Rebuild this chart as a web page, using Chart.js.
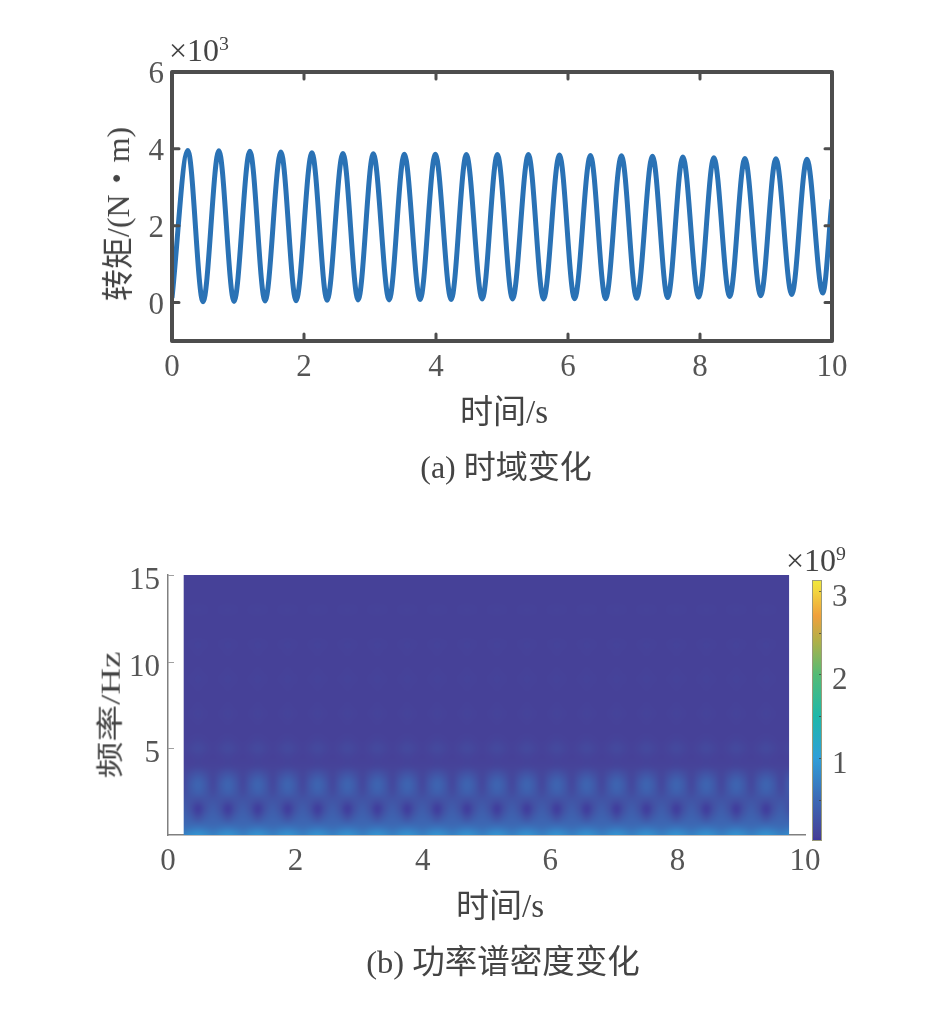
<!DOCTYPE html>
<html>
<head>
<meta charset="utf-8">
<script src="https://cdn.jsdelivr.net/npm/chart.js@4"></script>
<style>
  html, body { margin: 0; padding: 0; background: #fff; }
  body { position: relative; width: 945px; height: 1009px; overflow: hidden; font-family: 'Liberation Serif', 'Noto Sans CJK SC', serif; color: #444; }
  canvas { position: absolute; left: 0; }
  .t { position: absolute; white-space: nowrap; transform: translate(-50%, -50%); line-height: 1; }
  .rot { transform: translate(-50%, -50%) rotate(-90deg); }
  sup { font-size: 62%; line-height: 0; vertical-align: 0.55em; }
</style>
</head>
<body>
<canvas id="torqueChart" width="945" height="500" style="top:0"></canvas>
<canvas id="heatChart" width="945" height="509" style="top:500px"></canvas>
<canvas id="barChart" width="945" height="509" style="top:500px"></canvas>

<div class="t" style="left:199px;top:50px;font-size:32px">×10<sup>3</sup></div>
<div class="t rot" style="left:118px;top:214px;font-size:32px">转矩/(N・m)</div>
<div class="t" style="left:504px;top:412px;font-size:33px">时间/s</div>
<div class="t" style="left:506px;top:467px;font-size:32px">(a) 时域变化</div>
<div class="t" style="left:816px;top:560px;font-size:32px">×10<sup>9</sup></div>
<div class="t" style="left:110px;top:715px;font-size:32px;transform:translate(-50%,-50%) rotate(-90deg) scale(1.15,0.85)">频率/Hz</div>
<div class="t" style="left:500px;top:906px;font-size:33px">时间/s</div>
<div class="t" style="left:503px;top:962px;font-size:32.5px">(b) 功率谱密度变化</div>

<script>
const FONT = "'Liberation Serif', 'Noto Sans CJK SC', serif";
const TEXT_COLOR = '#555555';
const TICK_SIZE = 31;

// top plot, torque in 10^3 N.m read at each crest and trough
const startPoint = [0, 0.12];
const endPoint = [10, 2.68];
const peakTimes = [0.24, 0.71, 1.18, 1.65, 2.12, 2.59, 3.05, 3.52, 3.99, 4.46, 4.93, 5.40, 5.87, 6.34, 6.81, 7.28, 7.74, 8.21, 8.68, 9.15, 9.62];
const peakValues = [3.96, 3.95, 3.94, 3.92, 3.90, 3.88, 3.87, 3.86, 3.86, 3.85, 3.85, 3.85, 3.84, 3.83, 3.82, 3.81, 3.79, 3.77, 3.75, 3.74, 3.73];
const troughTimes = [0.47, 0.94, 1.41, 1.88, 2.35, 2.82, 3.29, 3.76, 4.23, 4.70, 5.16, 5.63, 6.10, 6.57, 7.04, 7.51, 7.98, 8.45, 8.92, 9.39, 9.86];
const troughValues = [0.02, 0.03, 0.04, 0.05, 0.06, 0.07, 0.07, 0.08, 0.08, 0.09, 0.09, 0.09, 0.10, 0.10, 0.11, 0.13, 0.14, 0.16, 0.18, 0.21, 0.25];
const torqueXTicks = [0, 2, 4, 6, 8, 10];
const torqueYTicks = [0, 2, 4, 6];

// bottom plot, power in 10^9 per frequency row, at three phases of one cycle
const heatFreqs = [0, 0.5, 1, 1.5, 2, 2.5, 3, 3.5, 4, 4.5, 5, 5.5, 6, 6.5, 7, 7.5, 8, 8.5, 9, 9.5, 10, 10.5, 11, 11.5, 12, 12.5, 13, 13.5, 14, 14.5, 15];
const powerBump = [0.90, 0.55, 0.22, 0.02, 0.20, 0.40, 0.44, 0.28, 0.08, 0.08, 0.15, 0.08, 0.05, 0.06, 0.08, 0.06, 0.05, 0.06, 0.075, 0.06, 0.05, 0.06, 0.075, 0.055, 0.05, 0.055, 0.07, 0.055, 0.05, 0.05, 0.05];
const powerMid = [0.82, 0.53, 0.36, 0.24, 0.25, 0.30, 0.31, 0.20, 0.07, 0.06, 0.10, 0.06, 0.05, 0.055, 0.06, 0.055, 0.05, 0.055, 0.06, 0.055, 0.05, 0.055, 0.06, 0.05, 0.05, 0.05, 0.06, 0.05, 0.05, 0.05, 0.05];
const powerGap = [0.72, 0.50, 0.42, 0.36, 0.27, 0.16, 0.12, 0.10, 0.07, 0.05, 0.06, 0.05, 0.05, 0.05, 0.05, 0.05, 0.05, 0.05, 0.05, 0.05, 0.05, 0.05, 0.05, 0.05, 0.05, 0.05, 0.05, 0.05, 0.05, 0.05, 0.05];
const heatStart = 0.27;
const heatEnd = 9.75;
const heatXTicks = [0, 2, 4, 6, 8, 10];
const heatYTicks = [5, 10, 15];

// colour bar
const barMin = 0.004;
const barMax = 3.13;
const barTicks = [1, 2, 3];
const barMinorTicks = [0.5, 1, 1.5, 2, 2.5, 3];
const colorValues = [0, 0.05, 0.5, 1, 1.5, 2, 2.4, 2.7, 3, 3.13];
const colorStops = [[60, 54, 159], [70, 65, 152], [60, 106, 181], [47, 159, 216], [31, 184, 168], [85, 187, 117], [176, 176, 72], [240, 160, 60], [242, 214, 62], [239, 233, 60]];

function colorFor(v) {
  let i = 0;
  while (i < colorValues.length - 2 && v > colorValues[i + 1]) i++;
  const f = Math.max(0, Math.min(1, (v - colorValues[i]) / (colorValues[i + 1] - colorValues[i])));
  return colorStops[i].map((c, k) => Math.round(c + (colorStops[i + 1][k] - c) * f));
}

function setTicks(list) {
  return scale => { scale.ticks = list.map(v => ({ value: v })); };
}

function fixedBox(size) {
  return scale => {
    if (scale.isHorizontal()) scale.height = size; else scale.width = size;
  };
}

const torquePoints = [{ x: startPoint[0], y: startPoint[1] }];
peakTimes.forEach((t, i) => {
  torquePoints.push({ x: t, y: peakValues[i] });
  torquePoints.push({ x: troughTimes[i], y: troughValues[i] });
});
torquePoints.push({ x: endPoint[0], y: endPoint[1] });

// matlab style box with the ticks pointing inwards
const boxPlugin = {
  id: 'boxPlugin',
  afterDraw(chart) {
    const { ctx, chartArea: a, scales: { x, y } } = chart;
    ctx.save();
    ctx.strokeStyle = '#4d4d4d';
    ctx.lineCap = 'round';
    ctx.lineWidth = 3;
    ctx.beginPath();
    torqueXTicks.forEach(v => {
      const px = x.getPixelForValue(v);
      ctx.moveTo(px, a.top); ctx.lineTo(px, a.top + 7);
      ctx.moveTo(px, a.bottom); ctx.lineTo(px, a.bottom - 7);
    });
    torqueYTicks.forEach(v => {
      const py = y.getPixelForValue(v);
      ctx.moveTo(a.left, py); ctx.lineTo(a.left + 7, py);
      ctx.moveTo(a.right, py); ctx.lineTo(a.right - 7, py);
    });
    ctx.stroke();
    ctx.lineWidth = 4;
    ctx.lineJoin = 'round';
    ctx.strokeRect(a.left, a.top, a.right - a.left, a.bottom - a.top);
    ctx.restore();
  }
};

new Chart(document.getElementById('torqueChart'), {
  type: 'line',
  data: {
    datasets: [{
      data: torquePoints,
      borderColor: '#2a72b5',
      borderWidth: 5,
      pointRadius: 0,
      cubicInterpolationMode: 'monotone',
      clip: 2
    }]
  },
  options: {
    responsive: false,
    animation: false,
    parsing: false,
    layout: { padding: { left: 102, right: 113, top: 72, bottom: 100 } },
    plugins: { legend: { display: false }, tooltip: { enabled: false } },
    scales: {
      x: {
        type: 'linear', min: 0, max: 10,
        afterBuildTicks: setTicks(torqueXTicks),
        afterFit: fixedBox(59),
        grid: { display: false }, border: { display: false },
        ticks: { color: TEXT_COLOR, font: { family: FONT, size: TICK_SIZE }, maxRotation: 0, padding: 0 }
      },
      y: {
        type: 'linear', min: -1, max: 6,
        afterBuildTicks: setTicks(torqueYTicks),
        afterFit: fixedBox(70),
        grid: { display: false }, border: { display: false },
        ticks: { color: TEXT_COLOR, font: { family: FONT, size: TICK_SIZE }, labelOffset: 3, padding: 0 }
      }
    }
  },
  plugins: [boxPlugin]
});

// one cell per frequency row and time column, tiled cycle by cycle
const heatPhases = [powerGap, powerMid, powerBump, powerMid];
const heatStep = (troughTimes[20] - troughTimes[0]) / 20;
const heatCells = [];
troughTimes.forEach((t, p) => {
  heatPhases.forEach((row, k) => {
    heatFreqs.forEach((f, j) => {
      heatCells.push({ x: t + (k - 2) * heatStep / 4, y: f, v: row[j], col: p * 4 + k, row: j });
    });
  });
});

const heatPlugin = {
  id: 'heatPlugin',
  beforeDatasetsDraw(chart) {
    const { ctx, scales: { x, y } } = chart;
    const cells = chart.data.datasets[0].data;
    const cols = troughTimes.length * 4;
    const rows = heatFreqs.length;
    const off = document.createElement('canvas');
    off.width = cols;
    off.height = rows;
    const octx = off.getContext('2d');
    const img = octx.createImageData(cols, rows);
    cells.forEach(c => {
      const at = ((rows - 1 - c.row) * cols + c.col) * 4;
      const rgb = colorFor(c.v);
      img.data[at] = rgb[0];
      img.data[at + 1] = rgb[1];
      img.data[at + 2] = rgb[2];
      img.data[at + 3] = 255;
    });
    octx.putImageData(img, 0, 0);

    const dt = heatStep / 4;
    const left = x.getPixelForValue(cells[0].x - dt / 2);
    const right = x.getPixelForValue(cells[cells.length - 1].x + dt / 2);
    const top = y.getPixelForValue(15.25);
    const bottom = y.getPixelForValue(-0.25);
    ctx.save();
    ctx.beginPath();
    ctx.rect(x.getPixelForValue(heatStart) - 1.5, y.getPixelForValue(15), x.getPixelForValue(heatEnd) - x.getPixelForValue(heatStart) + 1.5, y.getPixelForValue(0) - y.getPixelForValue(15));
    ctx.clip();
    ctx.imageSmoothingEnabled = true;
    ctx.imageSmoothingQuality = 'high';
    ctx.drawImage(off, left, top, right - left, bottom - top);
    ctx.restore();

    ctx.save();
    ctx.strokeStyle = '#a0a0a0';
    ctx.lineWidth = 1;
    ctx.beginPath();
    heatYTicks.forEach(v => {
      const py = Math.round(y.getPixelForValue(v)) + 0.5;
      ctx.moveTo(x.left, py);
      ctx.lineTo(x.left + 6, py);
    });
    ctx.stroke();
    ctx.restore();
  }
};

new Chart(document.getElementById('heatChart'), {
  type: 'scatter',
  data: { datasets: [{ data: heatCells, pointRadius: 0 }] },
  options: {
    responsive: false,
    animation: false,
    parsing: false,
    layout: { padding: { left: 98, right: 140, top: 75, bottom: 114 } },
    plugins: { legend: { display: false }, tooltip: { enabled: false } },
    scales: {
      x: {
        type: 'linear', min: 0, max: 10,
        afterBuildTicks: setTicks(heatXTicks),
        afterFit: fixedBox(60),
        grid: { display: false },
        border: { display: true, color: '#808080', width: 1.5 },
        ticks: { color: TEXT_COLOR, font: { family: FONT, size: TICK_SIZE }, maxRotation: 0, padding: 0 }
      },
      y: {
        type: 'linear', min: 0, max: 15,
        afterBuildTicks: setTicks(heatYTicks),
        afterFit: fixedBox(70),
        grid: { display: false },
        border: { display: true, color: '#808080', width: 1.5 },
        ticks: { color: TEXT_COLOR, font: { family: FONT, size: TICK_SIZE }, labelOffset: 6, padding: 0 }
      }
    }
  },
  plugins: [heatPlugin]
});

const barTickPlugin = {
  id: 'barTickPlugin',
  afterDraw(chart) {
    const { ctx, chartArea: a, scales: { y } } = chart;
    ctx.save();
    ctx.strokeStyle = 'rgba(60,60,60,0.75)';
    ctx.lineWidth = 1;
    ctx.beginPath();
    barMinorTicks.forEach(v => {
      const py = Math.round(y.getPixelForValue(v)) + 0.5;
      ctx.moveTo(a.right - 3, py);
      ctx.lineTo(a.right, py);
    });
    ctx.stroke();
    ctx.strokeStyle = '#9a9a7a';
    ctx.strokeRect(a.left + 0.5, a.top + 0.5, a.right - a.left - 1, a.bottom - a.top - 1);
    ctx.restore();
  }
};

new Chart(document.getElementById('barChart'), {
  type: 'bar',
  data: {
    labels: [''],
    datasets: [{
      data: [[barMin, barMax]],
      barPercentage: 1,
      categoryPercentage: 1,
      borderWidth: 0,
      backgroundColor(c) {
        const { chart } = c;
        if (!chart.chartArea) return '#3c369f';
        const y = chart.scales.y;
        const g = chart.ctx.createLinearGradient(0, y.getPixelForValue(barMin), 0, y.getPixelForValue(barMax));
        colorValues.forEach((v, i) => {
          g.addColorStop((v - colorValues[0]) / (colorValues[colorValues.length - 1] - colorValues[0]), 'rgb(' + colorStops[i].join(',') + ')');
        });
        return g;
      }
    }]
  },
  options: {
    responsive: false,
    animation: false,
    layout: { padding: { left: 812, right: 83, top: 80, bottom: 168 } },
    plugins: { legend: { display: false }, tooltip: { enabled: false } },
    scales: {
      x: { display: false },
      y: {
        position: 'right',
        min: barMin, max: barMax,
        afterBuildTicks: setTicks(barTicks),
        afterFit: fixedBox(40),
        grid: { display: false }, border: { display: false },
        ticks: { color: TEXT_COLOR, font: { family: FONT, size: TICK_SIZE }, labelOffset: 7, padding: 2 }
      }
    }
  },
  plugins: [barTickPlugin]
});
</script>
</body>
</html>
